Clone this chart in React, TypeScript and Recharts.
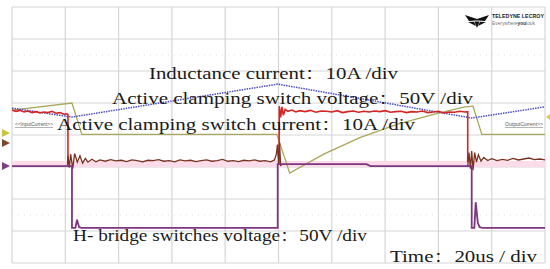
import React from "react";
import { LineChart, Line, XAxis, YAxis, CartesianGrid, ReferenceLine, ReferenceDot } from "recharts";

// time in microseconds (20 us / div), values in screen divisions (8 div tall, centre = 0)
const xTicks = [0, 20, 40, 60, 80, 100, 120, 140, 160, 180, 200];
const yTicks = [-4, -3, -2, -1, 0, 1, 2, 3, 4];

type P = [number, number | null];

const inductanceCurrent: P[] = [
  [0, 0.84], [22.5, 0.56], [99.7, 1.59], [172.5, 0.53], [200, 0.88],
];

const clampSwitchCurrent: P[] = [
  [0, 0.78], [22.5, 1.0], [26.2, 0.02], [99.4, 0.02], [104.2, -1.19], [117, -0.6],
  [130.5, -0.08], [145, 0.35], [160, 0.68], [170, 0.88], [173, 0.9], [176.3, 0.02], [200, 0.02],
];

const clampSwitchVoltage: P[] = [
  [0, 0.78], [1.5, 0.74], [3, 0.77], [4.5, 0.72], [6, 0.75], [7.5, 0.7], [9, 0.73], [10.5, 0.69],
  [12, 0.72], [13.5, 0.7], [15, 0.74], [16.5, 0.68], [18, 0.7], [19.5, 0.65], [20.5, 0.66], [21, 0.64],
  [21, -0.85], [21.1, null],
  [100.2, -0.9], [100.3, 0.9], [100.8, 0.55], [101.3, 0.88], [101.8, 0.62], [102.5, 0.8], [103.5, 0.74],
  [105, 0.78], [106.5, 0.72], [108, 0.76], [110, 0.73], [112, 0.77], [114, 0.71], [116, 0.75], [118, 0.74],
  [120, 0.72], [122, 0.76], [124, 0.7], [126, 0.73], [128, 0.75], [130, 0.71], [132, 0.74], [134, 0.72],
  [136, 0.75], [138, 0.73], [140, 0.76], [142, 0.71], [144, 0.73], [146, 0.74], [148, 0.7], [150, 0.73],
  [152, 0.72], [154, 0.75], [156, 0.7], [158, 0.72], [160, 0.74], [162, 0.69], [164, 0.72], [166, 0.71],
  [168, 0.74], [170, 0.72], [171, 0.73], [171, -0.85], [171.1, null],
];

const ringingTrace: P[] = [
  [20.8, -0.95], [21, -0.65], [21.5, -1.02], [22, -0.6], [22.8, -1.05], [23.5, -0.58], [24.5, -0.85],
  [25.5, -0.65], [26.5, -0.88], [27.5, -0.73], [28.5, -0.85], [30, -0.76], [31.5, -0.84], [33, -0.78],
  [35, -0.82], [37, -0.77], [39, -0.81], [41, -0.79], [43, -0.83], [45, -0.78], [47, -0.8], [49, -0.84],
  [51, -0.79], [53, -0.8], [55, -0.77], [57, -0.82], [59, -0.8], [61, -0.84], [63, -0.78], [65, -0.81],
  [67, -0.79], [69, -0.83], [71, -0.8], [73, -0.78], [75, -0.82], [77, -0.8], [79, -0.76], [81, -0.82],
  [83, -0.8], [85, -0.83], [87, -0.79], [89, -0.81], [91, -0.78], [93, -0.82], [95, -0.8], [97, -0.84],
  [98.5, -0.78], [99.2, -0.6], [99.6, -0.3], [100, -0.9], [100.4, -0.25], [100.8, -0.95], [101.5, -0.91],
  [101.6, null],
  [171, -0.97], [171.5, -0.55], [172, -1.05], [172.5, -0.5], [173, -1.1], [173.6, -0.55], [174.3, -0.85],
  [175, -0.62], [176, -0.82], [177, -0.7], [178.5, -0.8], [180, -0.74], [182, -0.8], [184, -0.76],
  [186, -0.79], [188, -0.73], [190, -0.78], [192, -0.75], [194, -0.72], [196, -0.77], [198, -0.75], [200, -0.78],
];

const hBridgeVoltage: P[] = [
  [0, -0.97], [22.5, -0.97], [22.5, -2.9], [23.8, -2.9], [24.4, -2.65], [25.2, -2.88], [26, -2.9],
  [99.7, -2.9], [99.7, -0.91], [133, -0.91], [134.5, -0.97], [172.5, -0.97], [172.5, -2.9], [173.5, -2.9],
  [174, -2.1], [174.8, -2.75], [175.5, -2.88], [176.5, -2.9], [200, -2.9],
];

const channelMarkers = [
  { v: 0.06, color: "#c9c43c" },
  { v: -0.25, color: "#7b4a2c" },
  { v: -0.97, color: "#7d3f82" },
];

const rows = (pts: P[]) => pts.map(([t, v]) => ({ t, v }));

const Tri = (props: any) => {
  const { cx, cy, fill } = props;
  if (cx == null || cy == null) return null;
  const x1 = cx - 2;
  return <polygon points={`${x1 - 8},${cy - 4} ${x1},${cy} ${x1 - 8},${cy + 4}`} fill={fill} />;
};

const serif = "'Liberation Serif', 'Noto Serif CJK SC', 'Noto Sans CJK SC', serif";

const annotations = [
  { text: "Inductance current：10A /div", x: 149, y: 79, w: 249 },
  { text: "Active clamping switch voltage：50V /div", x: 112, y: 104, w: 361 },
  { text: "Active clamping switch current：10A /div", x: 57, y: 130, w: 358 },
  { text: "H- bridge switches voltage：50V /div", x: 73, y: 241, w: 294 },
  { text: "Time：20us / div", x: 390, y: 262, w: 147 },
];

export default function App() {
  return (
    <div style={{ position: "absolute", left: 0, top: 0, width: 550, height: 269, background: "#fff" }}>
      <LineChart width={550} height={269} margin={{ top: 7, right: 5, bottom: 6, left: 12 }}>
        <XAxis type="number" dataKey="t" domain={[0, 200]} ticks={xTicks} hide allowDataOverflow />
        <YAxis type="number" domain={[-4, 4]} ticks={yTicks} hide allowDataOverflow />
        <CartesianGrid stroke="#d6d6d6" strokeWidth={1.2} />
        <ReferenceLine y={2.5} stroke="#dedede" strokeDasharray="1 5" />
        <ReferenceLine y={-2.5} stroke="#dedede" strokeDasharray="1 5" />
        <ReferenceLine y={-0.91} stroke="#fcdce8" strokeWidth={6} />
        <Line data={rows(clampSwitchCurrent)} dataKey="v" stroke="#aaa65a" strokeWidth={1.3} dot={false} isAnimationActive={false} connectNulls={false} />
        <Line data={rows(inductanceCurrent)} dataKey="v" stroke="#4a4cc4" strokeWidth={1.5} strokeDasharray="1.5 1" dot={false} isAnimationActive={false} />
        <Line data={rows(clampSwitchVoltage)} dataKey="v" stroke="#d42424" strokeWidth={1.6} dot={false} isAnimationActive={false} connectNulls={false} />
        <Line data={rows(ringingTrace)} dataKey="v" stroke="#7a3222" strokeWidth={1.3} dot={false} isAnimationActive={false} connectNulls={false} />
        <Line data={rows(hBridgeVoltage)} dataKey="v" stroke="#7d3582" strokeWidth={1.8} dot={false} isAnimationActive={false} />
        {channelMarkers.map((m, i) => (
          <ReferenceDot key={i} x={0} y={m.v} r={4} fill={m.color} stroke="none" shape={<Tri />} ifOverflow="visible" />
        ))}
      </LineChart>
      <svg width={550} height={269} style={{ position: "absolute", left: 0, top: 0, pointerEvents: "none" }}>
        {annotations.map((a, i) => (
          <text key={i} x={a.x} y={a.y} fontFamily={serif} fontSize={16} fill="#1a1a1a" textLength={a.w} lengthAdjust="spacingAndGlyphs">
            {a.text}
          </text>
        ))}
        <text x={15} y={126} fontFamily="'Liberation Sans', sans-serif" fontSize={4.5} fill="#555" textLength={38} lengthAdjust="spacingAndGlyphs" textDecoration="underline">
          {"<<InputCurrent>>"}
        </text>
        <text x={505} y={126} fontFamily="'Liberation Sans', sans-serif" fontSize={4.5} fill="#555" textLength={38} lengthAdjust="spacingAndGlyphs" textDecoration="underline">
          {"OutputCurrent>>"}
        </text>
        <polygon points="546,117 550,114 550,120" fill="#d8d040" />
        <path d="M465,15 L477,19 L489,15 L485,21 L478,20.5 L476,20.5 L469,21 Z" fill="#111" />
        <path d="M474.5,21.5 L479.5,21.5 L477,28 Z" fill="#111" />
        <path d="M468,22 L474,21.8 L476,26 Z M486,22 L480,21.8 L478,26 Z" fill="#111" />
        <text x={492} y={18} fontFamily="'Liberation Sans Narrow', 'Liberation Sans', sans-serif" fontWeight="bold" fontSize={5.5} fill="#222" textLength={52} lengthAdjust="spacingAndGlyphs">
          TELEDYNE LECROY
        </text>
        <text x={492} y={25} fontFamily="'Liberation Sans', sans-serif" fontSize={4.5} fill="#777" textLength={43} lengthAdjust="spacingAndGlyphs">
          Everywhere<tspan fontWeight="bold" fill="#333">you</tspan>look
        </text>
      </svg>
    </div>
  );
}
